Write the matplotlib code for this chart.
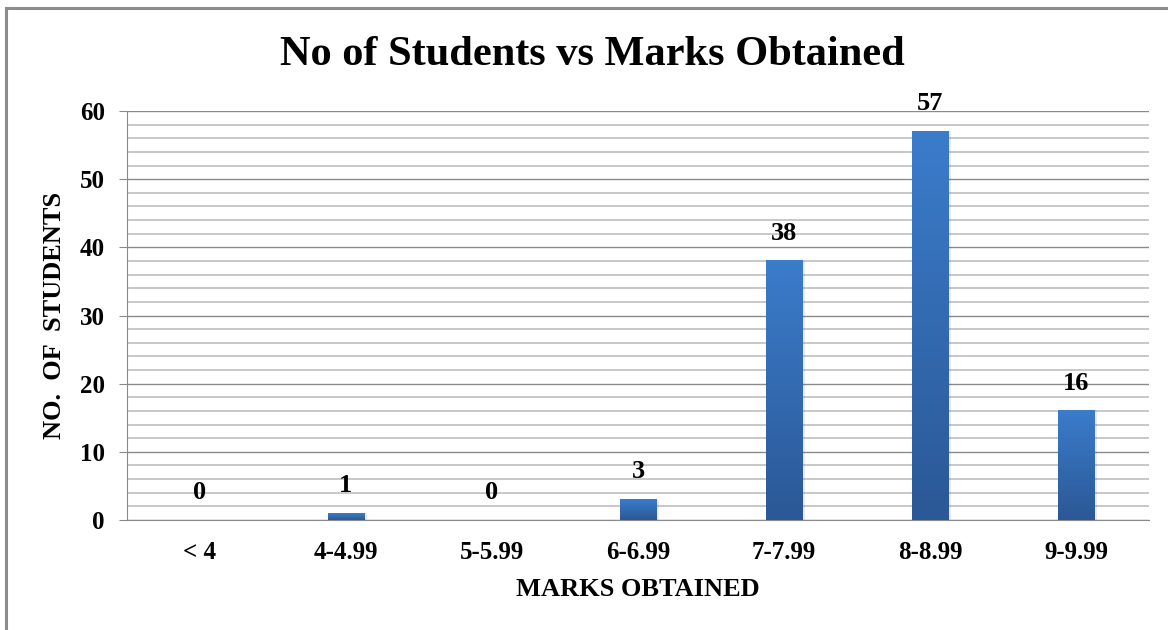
import numpy as np
import matplotlib
matplotlib.use("Agg")
import matplotlib.pyplot as plt
from matplotlib.colors import LinearSegmentedColormap

# data
categories = ['< 4', '4-4.99', '5-5.99', '6-6.99', '7-7.99', '8-8.99', '9-9.99']
students = [0, 1, 0, 3, 38, 57, 16]

plt.rcParams['font.family'] = ['Liberation Serif', 'DejaVu Serif']
plt.rcParams['font.weight'] = 'bold'

fig = plt.figure(figsize=(11.68, 6.30), dpi=100)
ax = fig.add_axes([0.1087, 0.1746, 0.8750, 0.6492])

x = np.arange(len(categories))
bars = ax.bar(x, students, width=0.25, color='none', zorder=3)

# vertical gradient fill for each bar
cmap = LinearSegmentedColormap.from_list('blues', ['#2b5896', '#3b7ccb'])
grad = np.linspace(0, 1, 256).reshape(-1, 1)
for b in bars:
    h = b.get_height()
    if h <= 0:
        continue
    x0 = b.get_x()
    w = b.get_width()
    ax.imshow(grad, cmap=cmap, origin='lower', aspect='auto',
              extent=(x0, x0 + w, 0, h), zorder=3)
    # soft shadow
    ax.bar(x0 + w / 2 + 0.012, h, width=w + 0.02, color='#000000',
           alpha=0.08, zorder=2)

for xi, v in zip(x, students):
    ax.annotate(str(v), (xi, v), xytext=(0, 20), textcoords='offset points',
                ha='center', va='center', fontsize=19, fontweight='bold')

ax.set_xlim(-0.5, len(categories) - 0.5)
ax.set_ylim(0, 60)
ax.set_yticks(np.arange(0, 61, 10))
ax.set_yticks(np.arange(0, 61, 2), minor=True)
ax.grid(axis='y', which='minor', color='#c4c4c4', linewidth=1.3, zorder=0)
ax.grid(axis='y', which='major', color='#8a8a8a', linewidth=1.0, zorder=1)
ax.set_axisbelow(True)

ax.set_xticks(x)
ax.set_xticklabels(categories)
ax.tick_params(axis='x', length=0, pad=15, labelsize=18)
ax.tick_params(axis='y', which='major', length=6, color='#8a8a8a', pad=10, labelsize=18)
ax.tick_params(axis='y', which='minor', length=0)

for s in ['top', 'right']:
    ax.spines[s].set_visible(False)
ax.spines['left'].set_color('#8a8a8a')
ax.spines['bottom'].set_color('#8a8a8a')

ax.set_xlabel('MARKS OBTAINED', fontsize=19, fontweight='bold', va='center')
ax.xaxis.set_label_coords(0.5, -0.171)
ax.set_ylabel('NO.  OF  STUDENTS', fontsize=19, fontweight='bold', va='center')
ax.yaxis.set_label_coords(-0.0705, 0.5)

fig.text(0.507, 0.913, 'No of Students vs Marks Obtained', ha='center', va='center',
         fontsize=30.5, fontweight='bold')

# outer chart border (left and top visible)
fig.add_artist(plt.Line2D([0.0055, 0.0055], [0, 0.987], color='#8c8c8c', lw=2.2))
fig.add_artist(plt.Line2D([0.0055, 1.0], [0.987, 0.987], color='#8c8c8c', lw=2.2))

fig.savefig('out.png', dpi=100)
